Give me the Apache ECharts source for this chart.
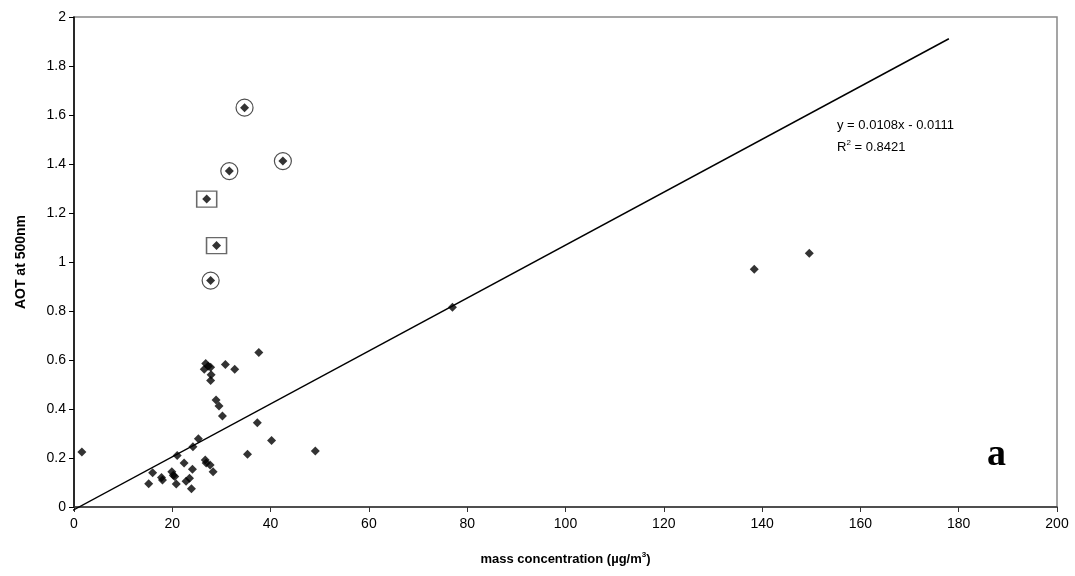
<!DOCTYPE html>
<html>
<head>
<meta charset="utf-8">
<script src="https://cdn.jsdelivr.net/npm/echarts@6/dist/echarts.min.js"></script>
<style>html,body{margin:0;padding:0;background:#fff}#c{width:1075px;height:576px}</style>
</head>
<body>
<div id="c"></div>
<script>
// mass concentration (µg/m3) and AOT at 500nm
const massConc = [1.6, 15.2, 16.0, 17.8, 18.0, 19.9, 20.2, 20.5, 20.8, 21.0, 22.4, 22.8, 23.5, 23.9, 24.1, 24.2, 25.3,
  26.7, 26.9, 27.7, 28.3, 26.8, 26.5, 27.3, 27.8, 27.9, 27.8, 28.9, 29.5, 30.2, 30.8, 32.7, 37.6, 37.3, 35.3, 40.2, 49.1,
  77.0, 138.4, 149.6];
const aotValues = [0.225, 0.095, 0.14, 0.12, 0.11, 0.144, 0.13, 0.124, 0.094, 0.21, 0.18, 0.105, 0.117, 0.075, 0.154, 0.246, 0.279,
  0.192, 0.18, 0.171, 0.144, 0.586, 0.562, 0.575, 0.57, 0.54, 0.516, 0.437, 0.412, 0.371, 0.582, 0.562, 0.631, 0.344, 0.215, 0.271, 0.229,
  0.815, 0.970, 1.036];
// circled outliers
const circledConc = [34.7, 42.5, 31.6, 27.8];
const circledAot = [1.630, 1.412, 1.371, 0.924];
// boxed outliers
const boxedConc = [27.0, 29.0];
const boxedAot = [1.257, 1.067];
// linear fit
const slope = 0.0108, intercept = -0.0111;
const fitRange = [-0.6, 178];
const xTicks = [0, 20, 40, 60, 80, 100, 120, 140, 160, 180, 200];
const yTicks = [0, 0.2, 0.4, 0.6, 0.8, 1, 1.2, 1.4, 1.6, 1.8, 2];

const zip = (a, b) => a.map((v, i) => [v, b[i]]);
const allPts = zip(massConc, aotValues).concat(zip(circledConc, circledAot), zip(boxedConc, boxedAot));
const fitPts = fitRange.map(x => [x, slope * x + intercept]);

const chart = echarts.init(document.getElementById('c'));
const F = 'Liberation Sans, Arial, sans-serif';
chart.setOption({
  animation: false,
  backgroundColor: '#fff',
  grid: { left: 74, right: 18, top: 17, bottom: 69, show: true, borderColor: '#888', borderWidth: 1.5 },
  xAxis: {
    type: 'value', min: xTicks[0], max: xTicks[xTicks.length - 1], interval: 20,
    axisLine: { show: true, onZero: false, lineStyle: { color: '#333', width: 1.5 } },
    axisTick: { show: true, length: 5, lineStyle: { color: '#333' } },
    axisLabel: { color: '#000', fontFamily: F, fontSize: 14, margin: 10 },
    splitLine: { show: false },
    name: 'mass concentration (µg/m{s|3})', nameLocation: 'middle', nameGap: 44,
    nameTextStyle: { color: '#000', fontFamily: F, fontSize: 13, fontWeight: 'bold',
      rich: { s: { fontSize: 8, fontWeight: 'bold', fontFamily: F, verticalAlign: 'top', padding: [0, 0, 8, 0] } } }
  },
  yAxis: {
    type: 'value', min: yTicks[0], max: yTicks[yTicks.length - 1], interval: 0.2,
    axisLine: { show: true, onZero: false, lineStyle: { color: '#000', width: 1.5 } },
    axisTick: { show: true, length: 5, lineStyle: { color: '#000' } },
    axisLabel: { color: '#000', fontFamily: F, fontSize: 14, margin: 8 },
    splitLine: { show: false },
    name: 'AOT at 500nm', nameLocation: 'middle', nameGap: 46, nameRotate: 90,
    nameTextStyle: { color: '#000', fontFamily: F, fontSize: 14, fontWeight: 'bold' }
  },
  series: [
    { type: 'line', data: fitPts, symbol: 'none', clip: false, lineStyle: { color: '#000', width: 1.5 }, z: 2 },
    { type: 'scatter', data: allPts, symbol: 'diamond', symbolSize: 9, itemStyle: { color: '#000' }, z: 3 },
    { type: 'scatter', data: zip(circledConc, circledAot), symbol: 'circle', symbolSize: 17,
      itemStyle: { color: 'rgba(0,0,0,0)', borderColor: '#222', borderWidth: 1.2 }, z: 4 },
    { type: 'scatter', data: zip(boxedConc, boxedAot), symbol: 'rect', symbolSize: [20, 16],
      itemStyle: { color: 'rgba(0,0,0,0)', borderColor: '#444', borderWidth: 1.4 }, z: 4 }
  ],
  graphic: [
    { type: 'text', left: 837, top: 119, style: { text: 'y = 0.0108x - 0.0111', fill: '#000', font: '13px ' + F } },
    { type: 'text', left: 837, top: 139, style: { text: 'R{s|2} = 0.8421', fill: '#000', font: '13px ' + F,
        rich: { s: { fontSize: 8, fontFamily: F, verticalAlign: 'top', padding: [0, 0, 8, 0] } } } },
    { type: 'text', left: 987, top: 436, style: { text: 'a', fill: '#000', font: 'bold 38px "Liberation Serif", "Times New Roman", serif' } }
  ]
});
</script>
</body>
</html>
